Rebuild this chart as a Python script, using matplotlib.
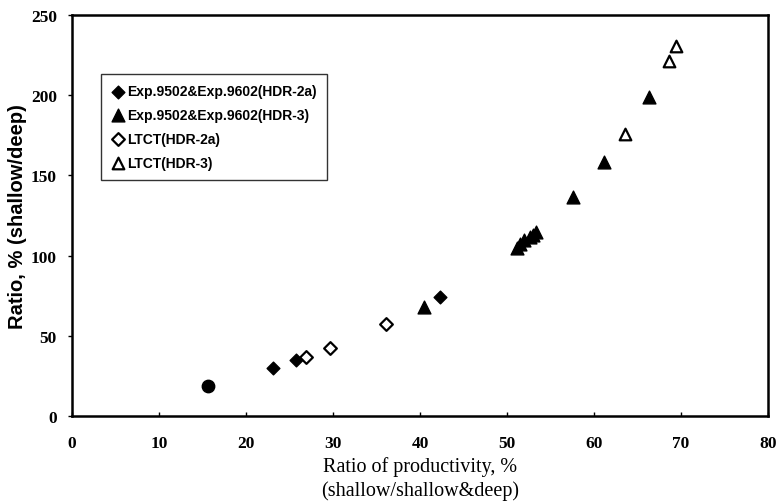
import matplotlib.pyplot as plt

# ---- data ----
exp_2a_x = [23.1, 25.8, 42.3]
exp_2a_y = [30.0, 34.9, 74.2]

exp_3_x = [40.5, 51.2, 51.5, 52.0, 52.6, 53.0, 53.3, 57.6, 61.1, 66.3]
exp_3_y = [68.0, 105.0, 107.5, 110.0, 111.5, 113.0, 114.5, 136.5, 158.4, 198.9]

ltct_2a_x = [26.9, 29.7, 36.1]
ltct_2a_y = [36.8, 42.4, 57.4]

ltct_3_x = [63.6, 68.6, 69.4]
ltct_3_y = [175.8, 221.3, 230.7]

circle_x = [15.6]
circle_y = [18.7]

xticks = [0, 10, 20, 30, 40, 50, 60, 70, 80]
yticks = [0, 50, 100, 150, 200, 250]

fig = plt.figure(figsize=(7.77, 5.02), dpi=100)
ax = fig.add_axes([0.0927, 0.1693, 0.8957, 0.7987])

ax.scatter(circle_x, circle_y, marker='o', s=80, color='black', zorder=3)
ax.scatter(exp_2a_x, exp_2a_y, marker='D', s=42, color='black', zorder=3,
           label='Exp.9502&Exp.9602(HDR-2a)')
ax.scatter(exp_3_x, exp_3_y, marker='^', s=85, color='black', zorder=3,
           label='Exp.9502&Exp.9602(HDR-3)')
ax.scatter(ltct_2a_x, ltct_2a_y, marker='D', s=42, facecolor='white',
           edgecolor='black', linewidth=1.6, zorder=3, label='LTCT(HDR-2a)')
ax.scatter(ltct_3_x, ltct_3_y, marker='^', s=70, facecolor='white',
           edgecolor='black', linewidth=1.6, zorder=3, label='LTCT(HDR-3)')

ax.set_xlim(0, 80)
ax.set_ylim(0, 250)
ax.set_xticks(xticks)
ax.set_yticks(yticks)
ax.set_xticklabels([str(t) for t in xticks], family='Liberation Serif',
                   fontweight='bold', fontsize=12.5)
ax.set_yticklabels([str(t) for t in yticks], family='Liberation Serif',
                   fontweight='bold', fontsize=12.5)
ax.tick_params(axis='x', direction='in', length=3, width=1, pad=14)
ax.tick_params(axis='y', direction='out', length=3, width=1, pad=8)
for sp in ax.spines.values():
    sp.set_linewidth(1.8)

ax.set_xlabel("Ratio of productivity, %\n(shallow/shallow&deep)",
              family='Liberation Serif', fontsize=14.5, linespacing=1.35,
              labelpad=3)
ax.set_ylabel("Ratio, % (shallow/deep)", family='Liberation Sans',
              fontweight='bold', fontsize=14.5)
ax.yaxis.set_label_coords(-0.065, 0.5)

leg = ax.legend(loc='upper left', bbox_to_anchor=(0.0417, 0.853),
                borderaxespad=0, frameon=True, fancybox=False,
                handletextpad=0.1, handlelength=1.0, labelspacing=0.7,
                borderpad=0.75, prop={'family': 'Liberation Sans',
                                      'weight': 'bold', 'size': 10})
leg.get_frame().set_edgecolor('black')
leg.get_frame().set_linewidth(1.0)

fig.savefig("out.png", dpi=100)
